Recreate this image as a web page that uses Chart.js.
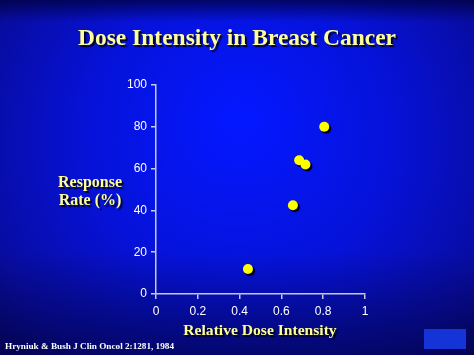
<!DOCTYPE html>
<html><head><meta charset="utf-8">
<script src="https://cdn.jsdelivr.net/npm/chart.js@4.4.0/dist/chart.umd.min.js"></script>
<style>html,body{margin:0;padding:0;background:#0a14a0;}#wrap{width:474px;height:355px;}</style>
</head><body><div id="wrap"><canvas id="c" width="474" height="355"></canvas></div>
<script>
const titleText = "Dose Intensity in Breast Cancer";
const yTitleLines = ["Response", "Rate (%)"];
const xTitleText = "Relative Dose Intensity";
const sourceText = "Hryniuk & Bush J Clin Oncol 2:1281, 1984";
const doseIntensity = [0.44, 0.655, 0.685, 0.715, 0.805];
const responseRate = [12, 42.5, 64, 62, 80];
const xTicks = [0, 0.2, 0.4, 0.6, 0.8, 1];
const yTicks = [0, 20, 40, 60, 80, 100];

const points = doseIntensity.map((x, i) => ({x: x, y: responseRate[i]}));

const bgPlugin = {
  id: 'bg',
  beforeDraw(chart) {
    const ctx = chart.ctx, w = chart.width, h = chart.height;
    ctx.save();
    const g = ctx.createRadialGradient(240, 120, 10, 240, 150, 330);
    g.addColorStop(0, '#0418ff');
    g.addColorStop(0.45, '#0612d8');
    g.addColorStop(0.8, '#080ca0');
    g.addColorStop(1, '#06066a');
    ctx.fillStyle = g;
    ctx.fillRect(0, 0, w, h);
    const t = ctx.createLinearGradient(0, 0, 0, 22);
    t.addColorStop(0, 'rgba(0,0,60,0.75)');
    t.addColorStop(1, 'rgba(0,0,60,0)');
    ctx.fillStyle = t;
    ctx.fillRect(0, 0, w, 22);
    const b = ctx.createLinearGradient(0, 250, 0, h);
    b.addColorStop(0, 'rgba(0,0,50,0)');
    b.addColorStop(1, 'rgba(0,0,50,0.55)');
    ctx.fillStyle = b;
    ctx.fillRect(0, 250, w, h - 250);
    ctx.restore();
  },
  afterDraw(chart) {
    const ctx = chart.ctx;
    ctx.save();
    ctx.shadowColor = 'rgba(0,0,0,0.8)';
    ctx.shadowOffsetX = 2; ctx.shadowOffsetY = 2; ctx.shadowBlur = 1;
    ctx.fillStyle = '#ffff99';
    ctx.textAlign = 'center'; ctx.textBaseline = 'middle';
    ctx.font = 'bold 23.5px "Liberation Serif", "Times New Roman", serif';
    ctx.fillText(titleText, 237, 39);
    ctx.font = 'bold 16px "Liberation Serif", "Times New Roman", serif';
    ctx.fillText(yTitleLines[0], 90, 183);
    ctx.fillText(yTitleLines[1], 90, 201);
    ctx.font = 'bold 15.6px "Liberation Serif", "Times New Roman", serif';
    ctx.fillText(xTitleText, 260, 331);
    ctx.shadowColor = 'rgba(0,0,0,0)';
    ctx.fillStyle = '#ffffff';
    ctx.textAlign = 'left';
    ctx.font = 'bold 9.2px "Liberation Serif", "Times New Roman", serif';
    ctx.fillText(sourceText, 5, 347);
    ctx.fillStyle = '#1434d8';
    ctx.fillRect(424, 329, 42, 20);
    ctx.restore();
  },
  beforeDatasetsDraw(chart) {
    const ctx = chart.ctx;
    ctx.save();
    ctx.shadowColor = 'rgba(0,0,0,0.95)';
    ctx.shadowOffsetX = 2; ctx.shadowOffsetY = 2; ctx.shadowBlur = 1;
  },
  afterDatasetsDraw(chart) {
    chart.ctx.restore();
  }
};

const axisColor = '#c8c8e0';
const tickFont = {family: '"Liberation Sans", Arial, sans-serif', size: 12};

new Chart(document.getElementById('c'), {
  type: 'scatter',
  data: {
    datasets: [{
      data: points,
      pointRadius: 5,
      pointHoverRadius: 5,
      pointBackgroundColor: '#ffff00',
      pointBorderColor: '#ffff00',
      pointBorderWidth: 0
    }]
  },
  options: {
    responsive: false,
    animation: false,
    events: [],
    layout: {padding: {left: 0, right: 109, top: 85, bottom: 0}},
    plugins: {legend: {display: false}, tooltip: {enabled: false}, title: {display: false}},
    scales: {
      x: {
        type: 'linear', min: 0, max: 1,
        afterBuildTicks(scale) { scale.ticks = xTicks.map(v => ({value: v})); },
        afterFit(scale) { scale.height = 61; },
        border: {display: true, color: axisColor, width: 1.5},
        grid: {display: true, drawOnChartArea: false, drawTicks: true, tickLength: 5, color: axisColor, lineWidth: 1.5},
        ticks: {color: '#ffffff', font: tickFont, padding: 5, maxRotation: 0,
          callback: v => String(v)}
      },
      y: {
        type: 'linear', min: 0, max: 100,
        afterBuildTicks(scale) { scale.ticks = yTicks.map(v => ({value: v})); },
        afterFit(scale) { scale.width = 156; },
        border: {display: true, color: axisColor, width: 1.5},
        grid: {display: true, drawOnChartArea: false, drawTicks: true, tickLength: 5, color: axisColor, lineWidth: 1.5},
        ticks: {color: '#ffffff', font: tickFont, padding: 4}
      }
    }
  },
  plugins: [bgPlugin]
});
</script>
</body></html>
